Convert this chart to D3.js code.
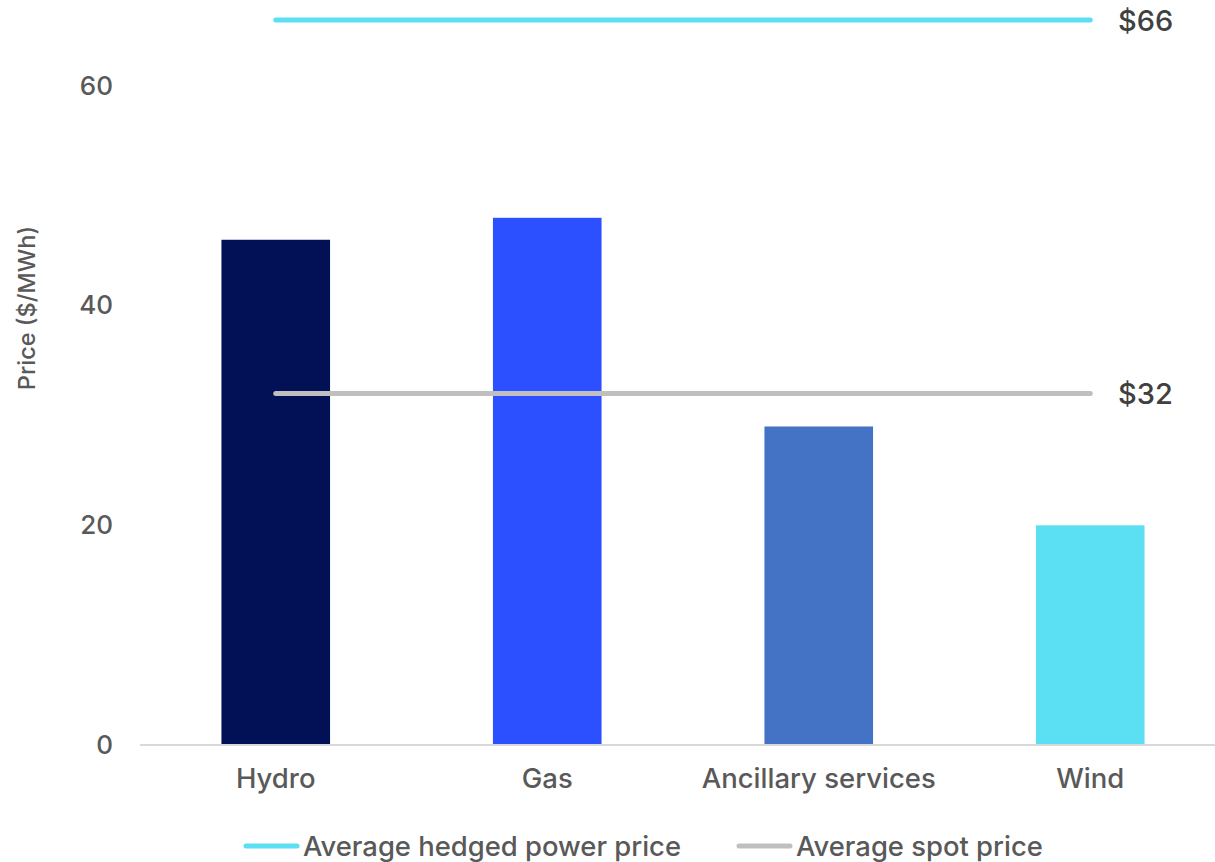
<!DOCTYPE html>
<html><head><meta charset="utf-8">
<script src="https://cdn.jsdelivr.net/npm/d3@7"></script>
<style>body{margin:0;background:#fff}svg{display:block;font-family:Inter,"Noto Sans",sans-serif;font-weight:500}</style>
</head><body>
<svg id="c" width="1215" height="862"></svg>
<script>
const categories = ["Hydro", "Gas", "Ancillary services", "Wind"];
const prices = [46, 48, 29, 20];
const barColors = ["#021155", "#2C50FF", "#4472C4", "#5AE0F2"];
const yTicks = [0, 20, 40, 60];
const hedgedPrice = 66;
const spotPrice = 32;
const refLines = [
  {name: "Average hedged power price", value: hedgedPrice, color: "#5AE0F2", label: "$66"},
  {name: "Average spot price", value: spotPrice, color: "#BFBFBF", label: "$32"}
];

const svg = d3.select("#c");
const x = d3.scaleBand().domain(categories).range([140, 1226]).paddingInner(0.6).paddingOuter(0.3);
const y = d3.scaleLinear().domain([0, 60]).range([745, 86]);
const FF = "Inter,'Noto Sans',sans-serif";

// y tick labels
const yAxis = svg.append("g").attr("transform", "translate(113,0)")
  .call(d3.axisLeft(y).tickValues(yTicks).tickSize(0).tickPadding(0));
yAxis.select(".domain").remove();
yAxis.selectAll("text").attr("font-size", 26).attr("fill", "#595959").attr("font-family", FF).attr("font-weight", 500);

// bars
svg.append("g").selectAll("rect").data(categories).join("rect")
  .attr("x", d => x(d)).attr("width", x.bandwidth())
  .attr("y", (d, i) => y(prices[i])).attr("height", (d, i) => y(0) - y(prices[i]))
  .attr("fill", (d, i) => barColors[i]);

// x axis
const xAxis = svg.append("g").attr("transform", "translate(0,745)")
  .call(d3.axisBottom(x).tickSize(0).tickPadding(23));
xAxis.select(".domain").attr("stroke", "#D9D9D9").attr("stroke-width", 2).attr("d", "M140,0H1215");
xAxis.selectAll("text").attr("font-size", 27.5).attr("fill", "#595959").attr("font-family", FF).attr("font-weight", 500);

// reference lines
const x0 = x(categories[0]) + x.bandwidth() / 2;
const x1 = x(categories[categories.length - 1]) + x.bandwidth() / 2;
refLines.forEach(r => {
  svg.append("line").attr("x1", x0).attr("x2", x1).attr("y1", y(r.value)).attr("y2", y(r.value))
    .attr("stroke", r.color).attr("stroke-width", 5).attr("stroke-linecap", "round");
  svg.append("text").attr("x", 1118).attr("y", y(r.value)).attr("dy", "0.36em")
    .attr("font-size", 29).attr("fill", "#404040").text(r.label);
});

// y axis title
svg.append("text").attr("transform", "translate(26,308) rotate(-90)")
  .attr("text-anchor", "middle").attr("dominant-baseline", "central")
  .attr("font-size", 23.5).attr("fill", "#595959").text("Price ($/MWh)");

// legend
const legendPos = [244, 737];
refLines.forEach((r, i) => {
  const lx = legendPos[i];
  svg.append("line").attr("x1", lx + 2).attr("x2", lx + 53).attr("y1", 846).attr("y2", 846)
    .attr("stroke", r.color).attr("stroke-width", 5).attr("stroke-linecap", "round");
  svg.append("text").attr("x", lx + 59).attr("y", 846).attr("dy", "0.36em")
    .attr("font-size", 27.4).attr("fill", "#595959").text(r.name);
});
</script>
</body></html>
